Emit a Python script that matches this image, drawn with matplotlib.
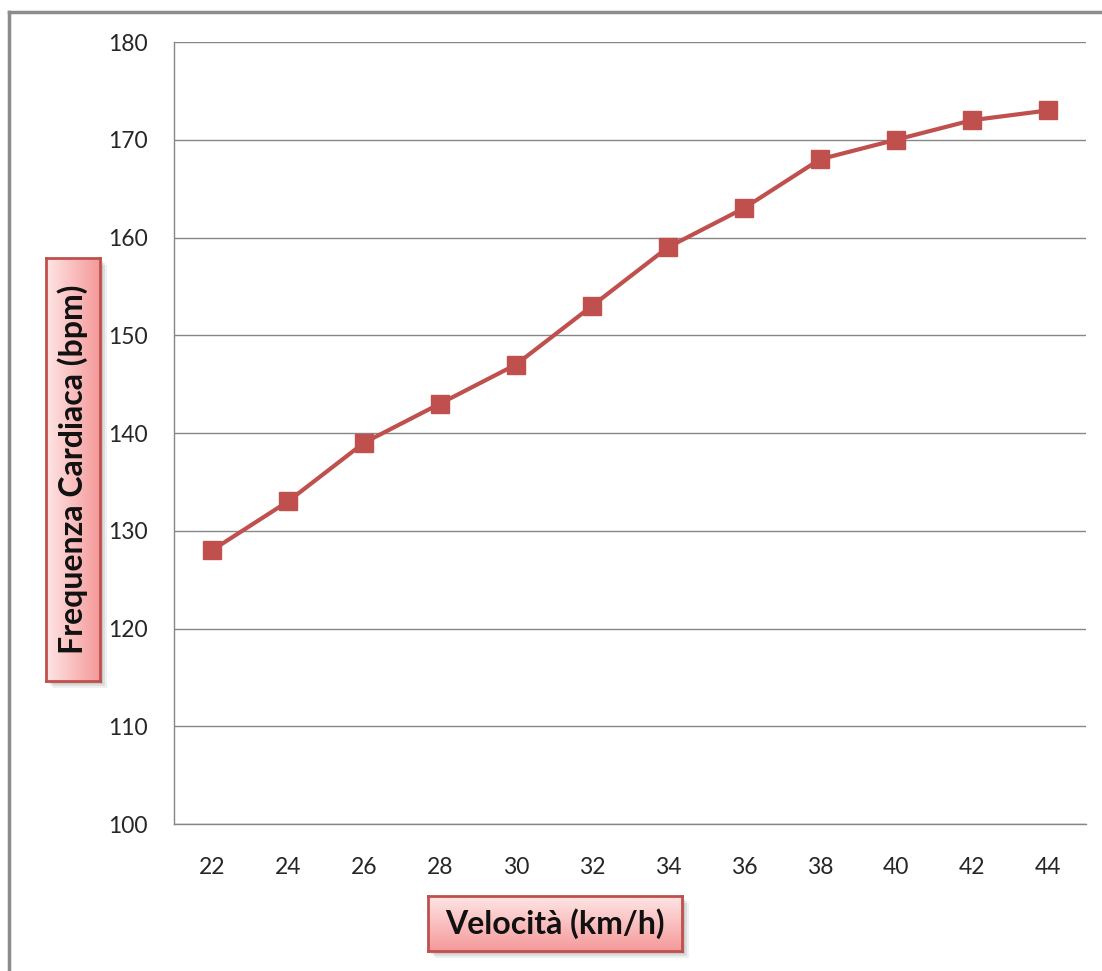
import numpy as np
import matplotlib
matplotlib.use("Agg")
import matplotlib.pyplot as plt
from matplotlib.patches import Rectangle
from matplotlib.lines import Line2D

# data
velocita = [22, 24, 26, 28, 30, 32, 34, 36, 38, 40, 42, 44]
frequenza = [128, 133, 139, 143, 147, 153, 159, 163, 168, 170, 172, 173]
y_ticks = [100, 110, 120, 130, 140, 150, 160, 170, 180]

W, H = 1102, 971
plt.rcParams['font.family'] = ['Lato', 'DejaVu Sans']

fig = plt.figure(figsize=(W / 100, H / 100), dpi=100)
fig.patch.set_facecolor("white")


def fx(px):
    return px / W


def fy(py):
    return 1 - py / H


ax = fig.add_axes([fx(174), fy(824), fx(1086) - fx(174), fy(42) - fy(824)])
pos = np.arange(len(velocita))
ax.plot(pos, frequenza, color="#C0504D", linewidth=3, marker="s",
        markersize=13, markerfacecolor="#C0504D", markeredgecolor="#C0504D",
        zorder=3)

ax.set_xlim(-0.5, len(velocita) - 0.5)
ax.set_ylim(100, 180)
ax.set_xticks(pos)
ax.set_xticklabels([str(v) for v in velocita])
ax.set_yticks(y_ticks)
ax.grid(axis="y", color="#868686", linewidth=1)
ax.set_axisbelow(True)
for s in ["top", "right"]:
    ax.spines[s].set_visible(False)
for s in ["left", "bottom"]:
    ax.spines[s].set_color("#868686")
    ax.spines[s].set_linewidth(1)
ax.tick_params(axis="x", length=0, pad=24, labelsize=16.5, labelcolor="#262626")
ax.tick_params(axis="y", length=0, pad=19, labelsize=16.5, labelcolor="#262626")

# outer chart border (top and left only visible)
fig.add_artist(Line2D([fx(9), 1], [fy(12), fy(12)], color="#8C8C8C", lw=2.5))
fig.add_artist(Line2D([fx(9), fx(9)], [fy(12), 0], color="#8C8C8C", lw=2.5))


def label_box(x0, y0, x1, y1, text, vertical):
    # soft shadow
    for i, a in enumerate([0.10, 0.08, 0.06]):
        off = 3 + i * 2
        fig.add_artist(Rectangle((fx(x0 + off), fy(y1 + off)),
                                 fx(x1 - x0), fy(y0) - fy(y1),
                                 facecolor="#000000", edgecolor="none",
                                 alpha=a, zorder=1))
    bax = fig.add_axes([fx(x0), fy(y1), fx(x1 - x0), fy(y0) - fy(y1)], zorder=2)
    grad = np.linspace(0, 1, 256)
    light = np.array([1.0, 0.90, 0.90])
    dark = np.array([0.96, 0.60, 0.60])
    cols = light[None, :] + (dark - light)[None, :] * grad[:, None]
    if vertical:
        img = cols[None, :, :]
    else:
        img = cols[:, None, :]
    bax.imshow(img, aspect="auto", extent=[0, 1, 0, 1], origin="upper")
    bax.set_xticks([])
    bax.set_yticks([])
    for s in bax.spines.values():
        s.set_color("#C0504D")
        s.set_linewidth(2)
    bax.text(0.5, 0.5, text, transform=bax.transAxes, ha="center",
             va="center", fontsize=23, fontweight="bold", color="#111111",
             rotation=90 if vertical else 0)


label_box(428, 896, 682, 951, "Velocità (km/h)", False)
label_box(46, 258, 100, 681, "Frequenza Cardiaca (bpm)", True)

fig.savefig("out.png", dpi=100)
